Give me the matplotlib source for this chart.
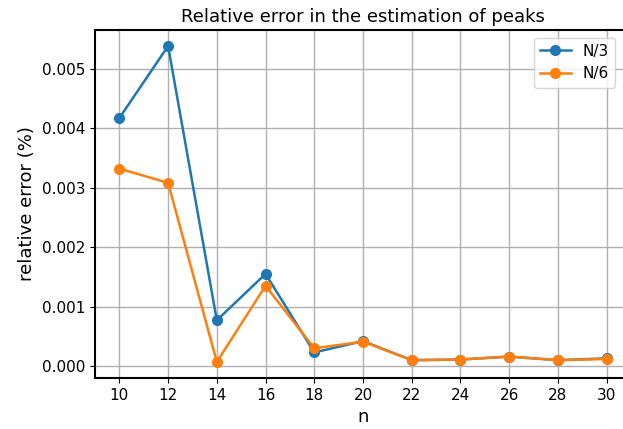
import numpy as np
import matplotlib
matplotlib.use("Agg")
import matplotlib.pyplot as plt

n = [10, 12, 14, 16, 18, 20, 22, 24, 26, 28, 30]
err_n3 = [0.00417, 0.00538, 0.00077, 0.00155, 0.00023, 0.00042, 0.00010, 0.00011, 0.00016, 0.00010, 0.00013]
err_n6 = [0.00332, 0.00308, 0.00007, 0.00135, 0.00030, 0.00041, 0.00010, 0.00011, 0.00016, 0.00010, 0.00012]

fig = plt.figure(figsize=(6.23, 4.29), dpi=100)
ax = fig.add_axes([95 / 623, 1 - 378 / 429, 536 / 623, 348 / 429])

ax.plot(n, err_n3, "o-", label="N/3", markersize=7, linewidth=1.8)
ax.plot(n, err_n6, "o-", label="N/6", markersize=7, linewidth=1.8)

ax.set_xticks(n)
ax.set_xlim(9, 31)
ax.set_ylim(-0.0002, 0.00565)
ax.grid(True, color="#b0b0b0", linewidth=1.0)
ax.tick_params(labelsize=11)
ax.set_xlabel("n", fontsize=13)
ax.set_ylabel("relative error (%)", fontsize=13)
ax.set_title("Relative error in the estimation of peaks", fontsize=13)
ax.legend(loc="upper right", fontsize=11, bbox_to_anchor=(0.985, 1.0))
for s in ax.spines.values():
    s.set_linewidth(1.5)

fig.savefig("out.png", dpi=100)
